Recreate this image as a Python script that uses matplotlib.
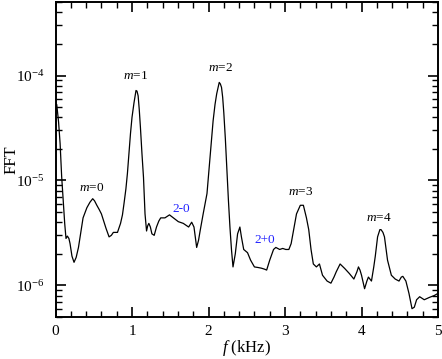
import numpy as np
import matplotlib
matplotlib.use('Agg')
import matplotlib.pyplot as plt
from matplotlib.ticker import MultipleLocator, LogLocator

plt.rcParams['font.family'] = ['Liberation Serif', 'DejaVu Serif']
plt.rcParams['mathtext.fontset'] = 'custom'
plt.rcParams['mathtext.rm'] = 'Liberation Serif'
plt.rcParams['mathtext.it'] = 'Liberation Serif:italic'

# spectrum (kHz, FFT amplitude)
freq = [0.0, 0.016, 0.04, 0.06, 0.08, 0.10, 0.12, 0.137, 0.155, 0.175, 0.19, 0.215, 0.242, 0.27, 0.30,
        0.33, 0.36, 0.41, 0.45, 0.486, 0.51, 0.54, 0.57, 0.60, 0.63, 0.66, 0.70, 0.73, 0.756, 0.78,
        0.81, 0.85, 0.875, 0.895, 0.92, 0.94, 0.96, 0.98, 1.00, 1.026, 1.052, 1.065, 1.08, 1.095, 1.11,
        1.13, 1.15, 1.17, 1.19, 1.205, 1.22, 1.24, 1.26, 1.29, 1.32, 1.35, 1.375, 1.43, 1.49, 1.54,
        1.605, 1.67, 1.74, 1.78, 1.81, 1.83, 1.845, 1.87, 1.89, 1.93, 1.98, 2.02, 2.06, 2.085, 2.107,
        2.14, 2.155, 2.17, 2.185, 2.20, 2.22, 2.24, 2.26, 2.28, 2.30, 2.32, 2.35, 2.38, 2.41, 2.43,
        2.46, 2.51, 2.55, 2.60, 2.65, 2.69, 2.73, 2.76, 2.80, 2.85, 2.88, 2.93, 2.97, 3.01, 3.05,
        3.08, 3.11, 3.15, 3.20, 3.24, 3.28, 3.31, 3.34, 3.37, 3.41, 3.45, 3.49, 3.55, 3.60, 3.64,
        3.67, 3.72, 3.78, 3.84, 3.90, 3.94, 3.96, 3.98, 4.00, 4.04, 4.07, 4.09, 4.13, 4.16, 4.18,
        4.21, 4.24, 4.255, 4.28, 4.30, 4.34, 4.39, 4.44, 4.49, 4.52, 4.54, 4.58, 4.62, 4.66, 4.69,
        4.72, 4.76, 4.82, 4.89, 4.95, 5.0]
fft = [4.6e-5, 5.3e-5, 3.6e-5, 2.25e-5, 1.1e-5, 6.5e-6, 3.9e-6, 2.8e-6, 2.95e-6, 2.8e-6, 2.5e-6, 1.9e-6, 1.66e-6, 1.85e-6, 2.3e-6,
       3.2e-6, 4.4e-6, 5.5e-6, 6.2e-6, 6.7e-6, 6.4e-6, 5.8e-6, 5.3e-6, 4.8e-6, 4.1e-6, 3.5e-6, 2.9e-6, 3.0e-6, 3.2e-6, 3.2e-6,
       3.2e-6, 3.9e-6, 4.7e-6, 6.0e-6, 8.3e-6, 1.17e-5, 1.8e-5, 2.8e-5, 4.0e-5, 5.5e-5, 7.2e-5, 7.1e-5, 6.4e-5, 4.7e-5, 3.2e-5,
       1.8e-5, 1.07e-5, 4.8e-6, 3.3e-6, 3.7e-6, 3.9e-6, 3.6e-6, 3.1e-6, 3.0e-6, 3.6e-6, 4.1e-6, 4.4e-6, 4.4e-6, 4.7e-6, 4.4e-6,
       4.05e-6, 3.9e-6, 3.6e-6, 4.0e-6, 3.6e-6, 2.8e-6, 2.3e-6, 2.7e-6, 3.3e-6, 4.8e-6, 7.5e-6, 1.66e-5, 3.7e-5, 5.3e-5, 6.7e-5,
       8.6e-5, 8.3e-5, 7.7e-5, 6.2e-5, 4.4e-5, 2.5e-5, 1.25e-5, 6.5e-6, 3.6e-6, 2.2e-6, 1.5e-6, 2.0e-6, 3.1e-6, 3.6e-6, 2.9e-6,
       2.2e-6, 2.05e-6, 1.74e-6, 1.5e-6, 1.48e-6, 1.46e-6, 1.43e-6, 1.4e-6, 1.74e-6, 2.2e-6, 2.3e-6, 2.2e-6, 2.25e-6, 2.2e-6, 2.2e-6,
       2.5e-6, 3.3e-6, 4.8e-6, 5.8e-6, 5.8e-6, 4.4e-6, 3.4e-6, 2.2e-6, 1.6e-6, 1.5e-6, 1.6e-6, 1.25e-6, 1.1e-6, 1.05e-6, 1.2e-6,
       1.35e-6, 1.6e-6, 1.45e-6, 1.3e-6, 1.15e-6, 1.35e-6, 1.5e-6, 1.4e-6, 1.25e-6, 9.3e-7, 1.1e-6, 1.2e-6, 1.1e-6, 1.5e-6, 1.9e-6,
       2.9e-6, 3.4e-6, 3.4e-6, 3.2e-6, 2.9e-6, 1.74e-6, 1.25e-6, 1.15e-6, 1.1e-6, 1.2e-6, 1.22e-6, 1.1e-6, 8.4e-7, 6.0e-7, 6.2e-7,
       7.3e-7, 7.8e-7, 7.3e-7, 7.7e-7, 8.0e-7, 8.4e-7]

# mode labels
mode_text = ['$m$=0', '$m$=1', '$m$=2', '$m$=3', '$m$=4']
mode_x = [0.47, 1.05, 2.15, 3.20, 4.23]
mode_y = [8.4e-6, 9.8e-5, 1.17e-4, 7.7e-6, 4.4e-6]
mix_text = ['2-0', '2+0']
mix_x = [1.65, 2.73]
mix_y = [5.3e-6, 2.7e-6]

fig = plt.figure(figsize=(4.42, 3.59), dpi=100)
ax = fig.add_axes([0.1256, 0.117, 0.8654, 0.877])

ax.plot(freq, fft, color='black', linewidth=0.9)
ax.set_yscale('log')
ax.set_xlim(0, 5)
ax.set_ylim(5e-7, 5e-4)

for t, x, y in zip(mode_text, mode_x, mode_y):
    ax.text(x, y, t, ha='center', va='center', fontsize=9.5)
for t, x, y in zip(mix_text, mix_x, mix_y):
    ax.text(x, y, t, ha='center', va='center', fontsize=9.5, color='#2020ff')

ax.xaxis.set_major_locator(MultipleLocator(1))
ax.xaxis.set_minor_locator(MultipleLocator(0.2))
ax.yaxis.set_major_locator(LogLocator(base=10, numticks=10))
ax.yaxis.set_minor_locator(LogLocator(base=10, subs=np.arange(2, 10), numticks=10))
ax.tick_params(which='both', direction='in', top=True, right=True, labelsize=11)
ax.tick_params(which='major', length=7, width=1.2)
ax.tick_params(which='minor', length=4, width=1.0)
ax.tick_params(axis='y', which='major', pad=8)
ax.tick_params(axis='x', which='major', pad=6)
for s in ax.spines.values():
    s.set_linewidth(1.4)

ax.set_xlabel('$f$ (kHz)', fontsize=12, va='center')
ax.set_ylabel('FFT', fontsize=12, va='center')
ax.xaxis.set_label_coords(0.5, -0.098)
ax.yaxis.set_label_coords(-0.116, 0.5)

fig.savefig('out.png', dpi=100)
